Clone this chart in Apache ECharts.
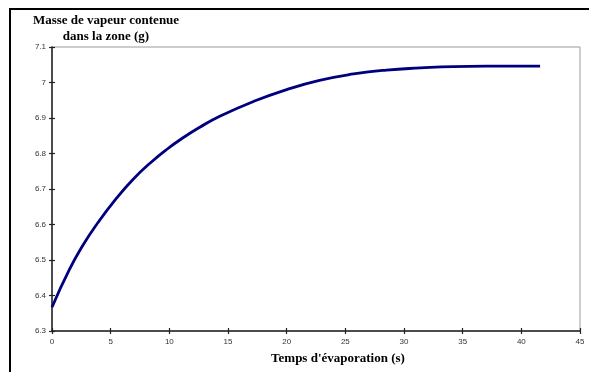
<!DOCTYPE html>
<html><head><meta charset="utf-8">
<script src="https://cdn.jsdelivr.net/npm/echarts@6/dist/echarts.min.js"></script>
<style>html,body{margin:0;padding:0;background:#fff}#c{width:589px;height:372px}</style>
</head><body><div id="c"></div>
<script>
const times = [0, 1.5, 2.7, 3.8, 5.5, 6.9, 8.4, 9.8, 11.2, 12.6, 14.3, 17.2, 20, 22.8, 25.7, 28.5, 31.4, 34.2, 37, 41.6];
const masses = [6.367, 6.474, 6.545, 6.600, 6.674, 6.727, 6.774, 6.812, 6.845, 6.874, 6.905, 6.947, 6.980, 7.006, 7.024, 7.035, 7.041, 7.045, 7.046, 7.046];
const titleText = 'Masse de vapeur contenue\ndans la zone (g)';
const xName = "Temps d'évaporation (s)";

const chart = echarts.init(document.getElementById('c'), null, {renderer: 'canvas'});
const labelStyle = {fontFamily: 'Liberation Sans, Arial, sans-serif', fontSize: 8, color: '#333'};
chart.setOption({
  animation: false,
  grid: {left: 52, right: 9, top: 47, bottom: 41, show: true, borderColor: '#9a9a9a', borderWidth: 1, backgroundColor: 'transparent'},
  xAxis: [
    {type: 'value', min: 0, max: 45, interval: 5,
     axisLine: {lineStyle: {color: '#222', width: 1.5}},
     axisTick: {length: 3, lineStyle: {color: '#222', width: 1.2}},
     axisLabel: Object.assign({margin: 7}, labelStyle),
     splitLine: {show: false}},
    {type: 'value', min: 0, max: 45, interval: 5, position: 'bottom',
     axisLine: {show: false},
     axisTick: {inside: true, length: 3, lineStyle: {color: '#222', width: 1.2}},
     axisLabel: {show: false}, splitLine: {show: false}}
  ],
  yAxis: [
    {type: 'value', min: 6.3, max: 7.1, interval: 0.1,
     axisLine: {show: true, lineStyle: {color: '#222', width: 1.5}},
     axisTick: {show: true, length: 3, lineStyle: {color: '#222', width: 1.2}},
     axisLabel: Object.assign({margin: 6, formatter: v => String(Math.round(v * 10) / 10)}, labelStyle),
     splitLine: {show: false}},
    {type: 'value', min: 6.3, max: 7.1, interval: 0.1, position: 'left',
     axisLine: {show: false},
     axisTick: {show: true, inside: true, length: 3, lineStyle: {color: '#222', width: 1.2}},
     axisLabel: {show: false}, splitLine: {show: false}}
  ],
  series: [{
    type: 'line', xAxisIndex: 0, yAxisIndex: 0,
    data: times.map((t, i) => [t, masses[i]]),
    smooth: 0.5, showSymbol: false,
    lineStyle: {color: '#00007f', width: 2.8}
  }],
  graphic: [
    {type: 'rect', shape: {x: 10, y: 9, width: 620, height: 420}, style: {fill: 'none', stroke: '#000', lineWidth: 2}, silent: true},
    {type: 'text', x: 106, y: 13, style: {text: titleText, font: 'bold 13px "Liberation Serif", "Times New Roman", serif', fill: '#000', textAlign: 'center', lineHeight: 16}},
    {type: 'text', x: 338, y: 352, style: {text: xName, font: 'bold 13px "Liberation Serif", "Times New Roman", serif', fill: '#000', textAlign: 'center'}}
  ]
});
</script></body></html>
